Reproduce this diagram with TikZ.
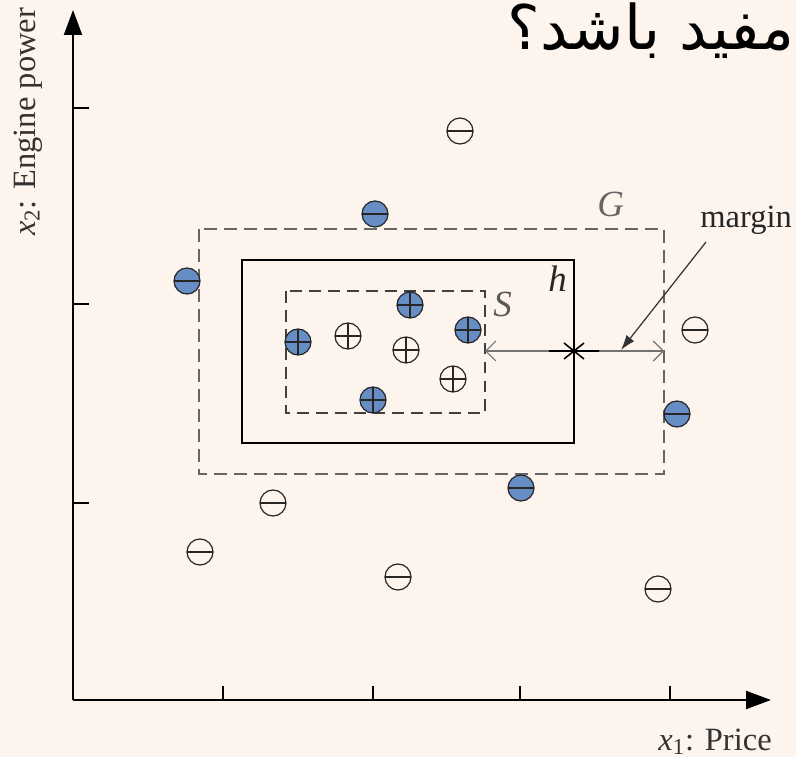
\documentclass[tikz,border=0pt]{standalone}
\usepackage{fontspec}
\setmainfont{Liberation Serif}
\newfontfamily\farsifont[Script=Arabic]{DejaVu Sans}
\TeXXeTstate=1
\usepackage{xcolor}
\usetikzlibrary{arrows.meta}

\definecolor{bgpink}{RGB}{253,244,238}
\definecolor{ptblue}{RGB}{103,142,196}

\tikzset{
	pt/.style={circle, draw=black!85, line width=0.7pt, minimum size=0.52cm, inner sep=0pt},
	minusdot/.style={pt, path picture={\draw[line width=0.9pt] (path picture bounding box.west) -- (path picture bounding box.east);}},
	plusdot/.style={pt, path picture={\draw[line width=0.9pt] (path picture bounding box.west) -- (path picture bounding box.east) (path picture bounding box.north) -- (path picture bounding box.south);}},
	full/.style={fill=ptblue},
	lbl/.style={font=\fontsize{18.5}{20}\selectfont, text=black!80, inner sep=0pt},
	hyp/.style={font=\fontsize{21}{23}\selectfont\itshape, inner sep=0pt},
}

\begin{document}
\begin{tikzpicture}[x=0.02cm, y=-0.02cm]
		\useasboundingbox (0,0) rectangle (796,757);
		\clip (0,0) rectangle (796,757);
		\fill[bgpink] (0,0) rectangle (796,757);
		%
		\node[font=\farsifont\fontsize{35}{37}\selectfont, anchor=base east, inner sep=0pt] (title) at (795,50) {\beginR مفید باشد؟\endR};
		%
		\coordinate (O) at (73,700);
		\coordinate (Y) at (73,10);
		\coordinate (X) at (771,700);
		\path[line width=1.2pt, -{Triangle[length=0.5cm,width=0.36cm]}]
		(O) edge (Y)
		(O) edge (X);
		\draw[line width=1pt] (73,108) -- (89,108) (73,304) -- (89,304) (73,503) -- (89,503)
		(223,700) -- (223,686) (373,700) -- (373,686) (520,700) -- (520,686) (670,700) -- (670,686);
		\node[lbl, rotate=90, anchor=base] (ylab) at (35,122) {\textit{x}\textsubscript{2}: Engine power};
		\node[lbl, anchor=base west] (xlab) at (658,750) {\textit{x}\textsubscript{1}: Price};
		%
		\draw[black!60, line width=1pt, dash pattern=on 7.4pt off 4pt] (199,229) rectangle (664,474);
		\draw[black, line width=1pt] (242,260) rectangle (574,443);
		\draw[black!75, line width=1pt, dash pattern=on 6.8pt off 4pt] (286,291) rectangle (485,413);
		\node[hyp, text=black!60, anchor=base west] (G) at (597,217) {G};
		\node[hyp, text=black!85, anchor=base west] (h) at (548,292) {h};
		\node[hyp, text=black!65, anchor=base west] (S) at (493,317) {S};
		%
		\node[minusdot] (n1) at (460,131) {};
		\node[minusdot, full] (n2) at (375,214) {};
		\node[minusdot, full] (n3) at (187,281) {};
		\node[minusdot] (n4) at (695,330) {};
		\node[minusdot, full] (n5) at (677,414) {};
		\node[minusdot, full] (n6) at (521,488) {};
		\node[minusdot] (n7) at (273,503) {};
		\node[minusdot] (n8) at (200,552) {};
		\node[minusdot] (n9) at (398,577) {};
		\node[minusdot] (n10) at (658,589) {};
		%
		\node[plusdot, full] (p1) at (410,305) {};
		\node[plusdot, full] (p2) at (298,342) {};
		\node[plusdot, full] (p3) at (468,330) {};
		\node[plusdot, full] (p4) at (373,400) {};
		\node[plusdot] (p5) at (348,336) {};
		\node[plusdot] (p6) at (406,350) {};
		\node[plusdot] (p7) at (453,379) {};
		%
		\coordinate (Sr) at (485,351);
		\coordinate (Gr) at (664,351);
		\coordinate (hx) at (574,351);
		\coordinate (mtail) at (706,242);
		\coordinate (mhead) at (621,350);
		\node[lbl, text=black!85, anchor=base west] (margin) at (700,228) {margin};
		\path[black!55, line width=0.7pt]
		(Sr) edge[{Straight Barb[length=0.2cm,width=0.4cm]}-{Straight Barb[length=0.2cm,width=0.4cm]}] (Gr)
		(mtail) edge[black!80, -{Latex[length=0.3cm,width=0.2cm]}] (mhead);
		\draw[black, line width=0.9pt] ([shift={(-25,0)}]hx) -- ([shift={(25,0)}]hx)
		([shift={(-10,-8)}]hx) -- ([shift={(10,8)}]hx)
		([shift={(-10,8)}]hx) -- ([shift={(10,-8)}]hx);
	\end{tikzpicture}
\end{document}
